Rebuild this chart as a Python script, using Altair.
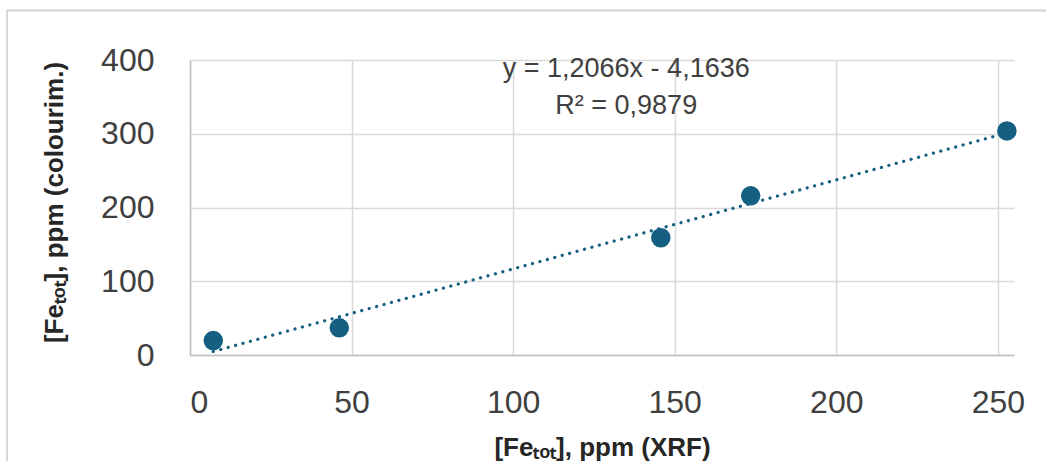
import altair as alt
import pandas as pd

# ---- data ----
xrf = [7.2, 46.2, 145.7, 173.5, 252.8]          # [Fe_tot], ppm (XRF)
colourim = [19.6, 36.8, 159.0, 215.8, 303.8]    # [Fe_tot], ppm (colourim.)
x_ticks = [0, 50, 100, 150, 200, 250]
y_ticks = [0, 100, 200, 300, 400]
eq_lines = ["y = 1,2066x - 4,1636", "R² = 0,9879"]
eq_x = [135, 135]
eq_y = [377, 327]

df = pd.DataFrame({"x": xrf, "y": colourim})
eq_df = pd.DataFrame({"x": eq_x, "y": eq_y, "t": eq_lines})

BLUE = "#156082"
GRID = "#d9d9d9"
TEXT = "#404040"

xscale = alt.Scale(domain=[0, 255], nice=False, zero=False)
yscale = alt.Scale(domain=[0, 400], nice=False)

xaxis = alt.Axis(
    values=x_ticks, grid=True, gridColor=GRID, gridWidth=1.5,
    domainColor="#bfbfbf", domainWidth=1.5, ticks=False,
    labelFont="Liberation Sans", labelFontSize=32, labelColor=TEXT,
    labelPadding=32,
    title="[Feₜₒₜ], ppm (XRF)", titleFont="Liberation Sans",
    titleFontSize=26, titleFontWeight="bold", titleColor="#262626",
    titleBaseline="alphabetic", titleY=100,
)
yaxis = alt.Axis(
    values=y_ticks, grid=True, gridColor=GRID, gridWidth=1.5,
    domainColor="#bfbfbf", domainWidth=1.5, ticks=False,
    labelFont="Liberation Sans", labelFontSize=32, labelColor=TEXT,
    labelPadding=36,
    title="[Feₜₒₜ], ppm (colourim.)", titleFont="Liberation Sans",
    titleFontSize=26, titleFontWeight="bold", titleColor="#262626",
    titleAngle=270, titleBaseline="alphabetic", titleX=-128, titleY=142,
    titleAlign="center",
)

base = alt.Chart(df)

points = base.mark_circle(size=380, opacity=1, color=BLUE).encode(
    x=alt.X("x:Q", scale=xscale, axis=xaxis),
    y=alt.Y("y:Q", scale=yscale, axis=yaxis),
)

trend = base.transform_regression("x", "y").mark_line(
    color=BLUE, strokeWidth=3.2, strokeDash=[0.1, 7.6], strokeCap="round"
).encode(
    x=alt.X("x:Q", scale=xscale),
    y=alt.Y("y:Q", scale=yscale),
)

eq = alt.Chart(eq_df).mark_text(
    font="Liberation Sans", fontSize=27, color=TEXT, align="center",
    baseline="alphabetic"
).encode(
    x=alt.X("x:Q", scale=xscale),
    y=alt.Y("y:Q", scale=yscale),
    text="t:N",
)

# outer chart-area border (left and top edges visible in the reference)
border_top = alt.Chart(df).mark_rule(color=GRID, strokeWidth=1.5).encode(
    x=alt.value(-183), x2=alt.value(860), y=alt.value(-49.5)
)
border_left = alt.Chart(df).mark_rule(color=GRID, strokeWidth=1.5).encode(
    x=alt.value(-183), y=alt.value(-49.5), y2=alt.value(410)
)

chart = alt.layer(border_top, border_left, points, trend, eq).properties(
    width=824, height=295,
    padding={"left": 190, "top": 60, "right": 32, "bottom": 106},
    autosize=alt.AutoSizeParams(type="none"),
    background="white",
).configure_view(stroke=None)

chart.save("out.html", embed_options={"renderer": "svg", "actions": False})
